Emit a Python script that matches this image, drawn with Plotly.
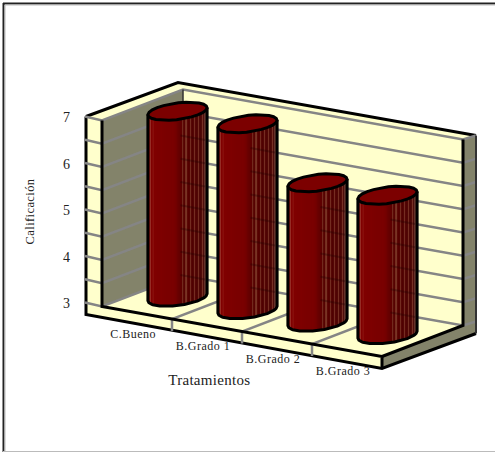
import json
import math

import numpy as np
import plotly.graph_objects as go

# Chart data
categories = ["C.Bueno", "B.Grado 1", "B.Grado 2", "B.Grado 3"]
values = [7.0, 7.0, 6.0, 6.0]
value_ticks = [3, 4, 5, 6, 7]
grid_values = [3, 3.5, 4, 4.5, 5, 5.5, 6, 6.5, 7]
x_title = "Tratamientos"
y_title = "Calificación"

# Colours
CREAM = "#FFFFCC"
OLIVE = "#83836A"
GRID = "#858585"
BLACK = "#000000"
TOP_RED = "#7C0000"
TEXT = "#222222"
FONT = "Liberation Serif"

# Oblique projection of (category, value, depth) onto the page
ORIGIN = (102.0, 306.5)
CAT_VEC = (70.0, 12.5)
DEPTH_VEC = (81.0, -31.0)
VALUE_PX = 46.5
V_MIN, V_MAX = 3, 7
N_CAT = len(categories)
LEFT_SLAB = (-16.0, -4.0)
RIGHT_SLAB = (13.0, -4.0)
FLOOR_DROP = 12.0
BACK_CORNER = (-5.0, -7.0)
RADIUS_CAT, RADIUS_DEPTH = 0.29, 0.266
OUTLINE = 3.0
GRID_WIDTH = 2.5


def project(cat, val, depth, dx=0.0, dy=0.0):
    x = ORIGIN[0] + CAT_VEC[0] * cat + DEPTH_VEC[0] * depth + dx
    y = ORIGIN[1] + CAT_VEC[1] * cat + DEPTH_VEC[1] * depth - VALUE_PX * (val - V_MIN) + dy
    return x, y


fig = go.Figure()


def polygon(points, fill, line=None, width=0, opacity=None):
    xs = [p[0] for p in points] + [points[0][0]]
    ys = [p[1] for p in points] + [points[0][1]]
    fig.add_trace(go.Scatter(
        x=xs, y=ys, mode="lines", fill="toself", fillcolor=fill,
        line=dict(color=line or fill, width=width), hoverinfo="skip",
        showlegend=False, opacity=opacity,
    ))


def polyline(points, color, width):
    fig.add_trace(go.Scatter(
        x=[p[0] for p in points], y=[p[1] for p in points], mode="lines",
        line=dict(color=color, width=width), hoverinfo="skip", showlegend=False,
    ))


# Named corners of the chart box
front_l_low = project(0, V_MIN, 0)
front_l_high = project(0, V_MAX, 0)
back_l_low = project(0, V_MIN, 1)
back_l_high = project(0, V_MAX, 1)
back_r_low = project(N_CAT, V_MIN, 1)
back_r_high = project(N_CAT, V_MAX, 1)
front_r_low = project(N_CAT, V_MIN, 0)
outer_l_high = project(0, V_MAX, 0, *LEFT_SLAB)
outer_l_low = project(0, V_MIN, 0, *LEFT_SLAB)
outer_l_floor = project(0, V_MIN, 0, LEFT_SLAB[0], LEFT_SLAB[1] + FLOOR_DROP)
outer_r_high = project(N_CAT, V_MAX, 1, *RIGHT_SLAB)
outer_r_floor = project(N_CAT, V_MIN, 1, RIGHT_SLAB[0], RIGHT_SLAB[1] + FLOOR_DROP)
outer_front = project(N_CAT, V_MIN, 0, 0, FLOOR_DROP)
outer_back = project(0, V_MAX, 1, *BACK_CORNER)

# Walls and floor
polygon([back_l_high, back_r_high, back_r_low, front_r_low, front_l_low, back_l_low], CREAM)
polygon([front_l_high, back_l_high, back_l_low, front_l_low], OLIVE)
polygon([outer_l_high, outer_back, outer_r_high, back_r_high, back_l_high, front_l_high], CREAM)
polygon([outer_l_high, front_l_high, front_l_low, front_r_low, outer_front, outer_l_floor], CREAM)
polygon([back_r_high, outer_r_high, outer_r_floor, outer_front, front_r_low, back_r_low], OLIVE)

# Box outlines that sit beneath the gridlines
polyline([outer_l_high, outer_l_floor, outer_front, outer_r_floor], BLACK, OUTLINE)
polyline([outer_l_high, outer_back, outer_r_high], BLACK, OUTLINE)

# Gridlines wrap around the left slab, both walls and the right slab
for v in grid_values:
    polyline([
        project(0, v, 0, LEFT_SLAB[0] - 1, LEFT_SLAB[1]),
        project(0, v, 0),
        project(0, v, 1),
        project(N_CAT, v, 1),
        project(N_CAT, v, 1, *RIGHT_SLAB),
    ], GRID, GRID_WIDTH)

# Category separators on the floor and the front edge
for c in range(1, N_CAT):
    polyline([
        project(c, V_MIN, 1),
        project(c, V_MIN, 0),
        project(c, V_MIN, 0, 0, FLOOR_DROP),
    ], GRID, GRID_WIDTH)

# Inner box outlines
polyline([front_l_high, front_l_low, front_r_low, outer_front], BLACK, OUTLINE)
polyline([front_r_low, back_r_low, back_r_high], BLACK, OUTLINE)
polyline([outer_r_high, outer_r_floor], "#333333", 2)
polyline([back_l_high, project(0, 6.5, 1)], "#333333", 1.5)


# Cylinder side shading, keyed on the fraction across the visible face
LIGHT_LEFT = [(0.035, "#A84A3E"), (0.095, "#961C16")]
LIGHT_RIGHT = [0.585, 0.65, 0.72, 0.79, 0.86, 0.93]


def face_colour(f):
    for pos, col in LIGHT_LEFT:
        if abs(f - pos) < 0.0085:
            return col
    for pos in LIGHT_RIGHT:
        if abs(f - pos) < 0.0085:
            return "#84402F"
    if f < 0.45:
        return f"rgb({int(136 - 16 * f)},0,0)"
    if f < 0.6:
        return f"rgb({int(129 - (f - 0.45) * 260)},0,0)"
    if f > 0.95:
        return "#6A3A30"
    return f"rgb({int(90 - (f - 0.6) * 40)},{int(2 + (f - 0.6) * 25)},{int(2 + (f - 0.6) * 25)})"


def draw_cylinder(cat_center, value):
    def rim(t, val):
        return project(
            cat_center + RADIUS_CAT * math.cos(t), val,
            0.5 + RADIUS_DEPTH * math.sin(t),
        )

    t0 = math.atan2(RADIUS_DEPTH * DEPTH_VEC[0], RADIUS_CAT * CAT_VEC[0])
    # Pick the side of the rim that faces the viewer
    sign = 1 if rim(t0 + math.pi / 2, V_MIN)[1] > rim(t0 - math.pi / 2, V_MIN)[1] else -1

    fractions = np.linspace(0, 1, 61)
    angles = [t0 + sign * math.acos(2 * f - 1) for f in fractions]
    low = [rim(t, V_MIN) for t in angles]
    high = [rim(t, value) for t in angles]

    polygon(low + high[::-1], "#500000")
    for k in range(len(fractions) - 1):
        f = (fractions[k] + fractions[k + 1]) / 2
        polygon([low[k], low[k + 1], high[k + 1], high[k]], face_colour(f), width=0.3)

    # Back wall gridlines faintly show through the shaded part of the column
    x_start = low[0][0] + 0.55 * (low[-1][0] - low[0][0])
    x_end = low[-1][0] - 2
    for v in grid_values:
        a = project(0, v, 1)
        slope = CAT_VEC[1] / CAT_VEC[0]
        y_a = a[1] + slope * (x_start - a[0])
        y_b = a[1] + slope * (x_end - a[0])
        if y_a > high[0][1] + 6 and y_b < low[-1][1] - 4:
            polyline([(x_start, y_a), (x_end, y_b)], "rgba(30,0,0,0.3)", 2)

    polyline([high[0]] + low + [high[-1]], BLACK, OUTLINE)
    top = [rim(t, value) for t in np.linspace(0, 2 * math.pi, 25)[:-1]]
    polygon(top, TOP_RED, BLACK, OUTLINE)


for i, val in enumerate(values):
    draw_cylinder(i + 0.5, val)

# Text
annotations = []


def label(x, y, text, size, angle=0):
    annotations.append(dict(
        x=x, y=y, text=text, showarrow=False, textangle=angle,
        xref="x", yref="y", xanchor="center", yanchor="middle",
        font=dict(family=FONT, size=size, color=TEXT),
    ))


for v in value_ticks:
    px, py = project(0, v, 0, *LEFT_SLAB)
    label(px - 20, py + 1, str(v), 14)
for i, name in enumerate(categories):
    px, py = project(i + 0.5, V_MIN, 0)
    label(px - 4, py + 21, name, 12)
label(209, 380, x_title, 15)
label(30, 211, y_title, 12.5, -90)

# Page frame
frame = [
    dict(type="line", x0=3.5, x1=3.5, y0=3, y1=452, line=dict(color="#222222", width=2)),
    dict(type="line", x0=5, x1=5, y0=5, y1=452, line=dict(color="#BBBBBB", width=1)),
    dict(type="line", x0=3, x1=495, y0=3.5, y1=3.5, line=dict(color="#222222", width=2)),
    dict(type="line", x0=5, x1=495, y0=5, y1=5, line=dict(color="#BBBBBB", width=1)),
    dict(type="line", x0=3, x1=495, y0=451.5, y1=451.5, line=dict(color="#BBBBBB", width=1)),
]

fig.update_layout(
    width=495, height=452, margin=dict(l=0, r=0, t=0, b=0),
    paper_bgcolor="white", plot_bgcolor="white", showlegend=False,
    xaxis=dict(range=[0, 495], visible=False, fixedrange=True),
    yaxis=dict(range=[452, 0], visible=False, fixedrange=True),
    annotations=annotations, shapes=frame,
)

# The labels are set with a little extra tracking
spacing = {name: "0.5px" for name in categories}
spacing[x_title] = "0.3px"
spacing[y_title] = "0.4px"
post_script = (
    "var sp=" + json.dumps(spacing, ensure_ascii=False) + ";"
    "document.querySelectorAll('.annotation-text').forEach(function(t){"
    "var s=sp[t.textContent]; if(s){t.style.letterSpacing=s;}});"
)

fig.write_html("out.html", post_script=post_script, config=dict(displayModeBar=False))
